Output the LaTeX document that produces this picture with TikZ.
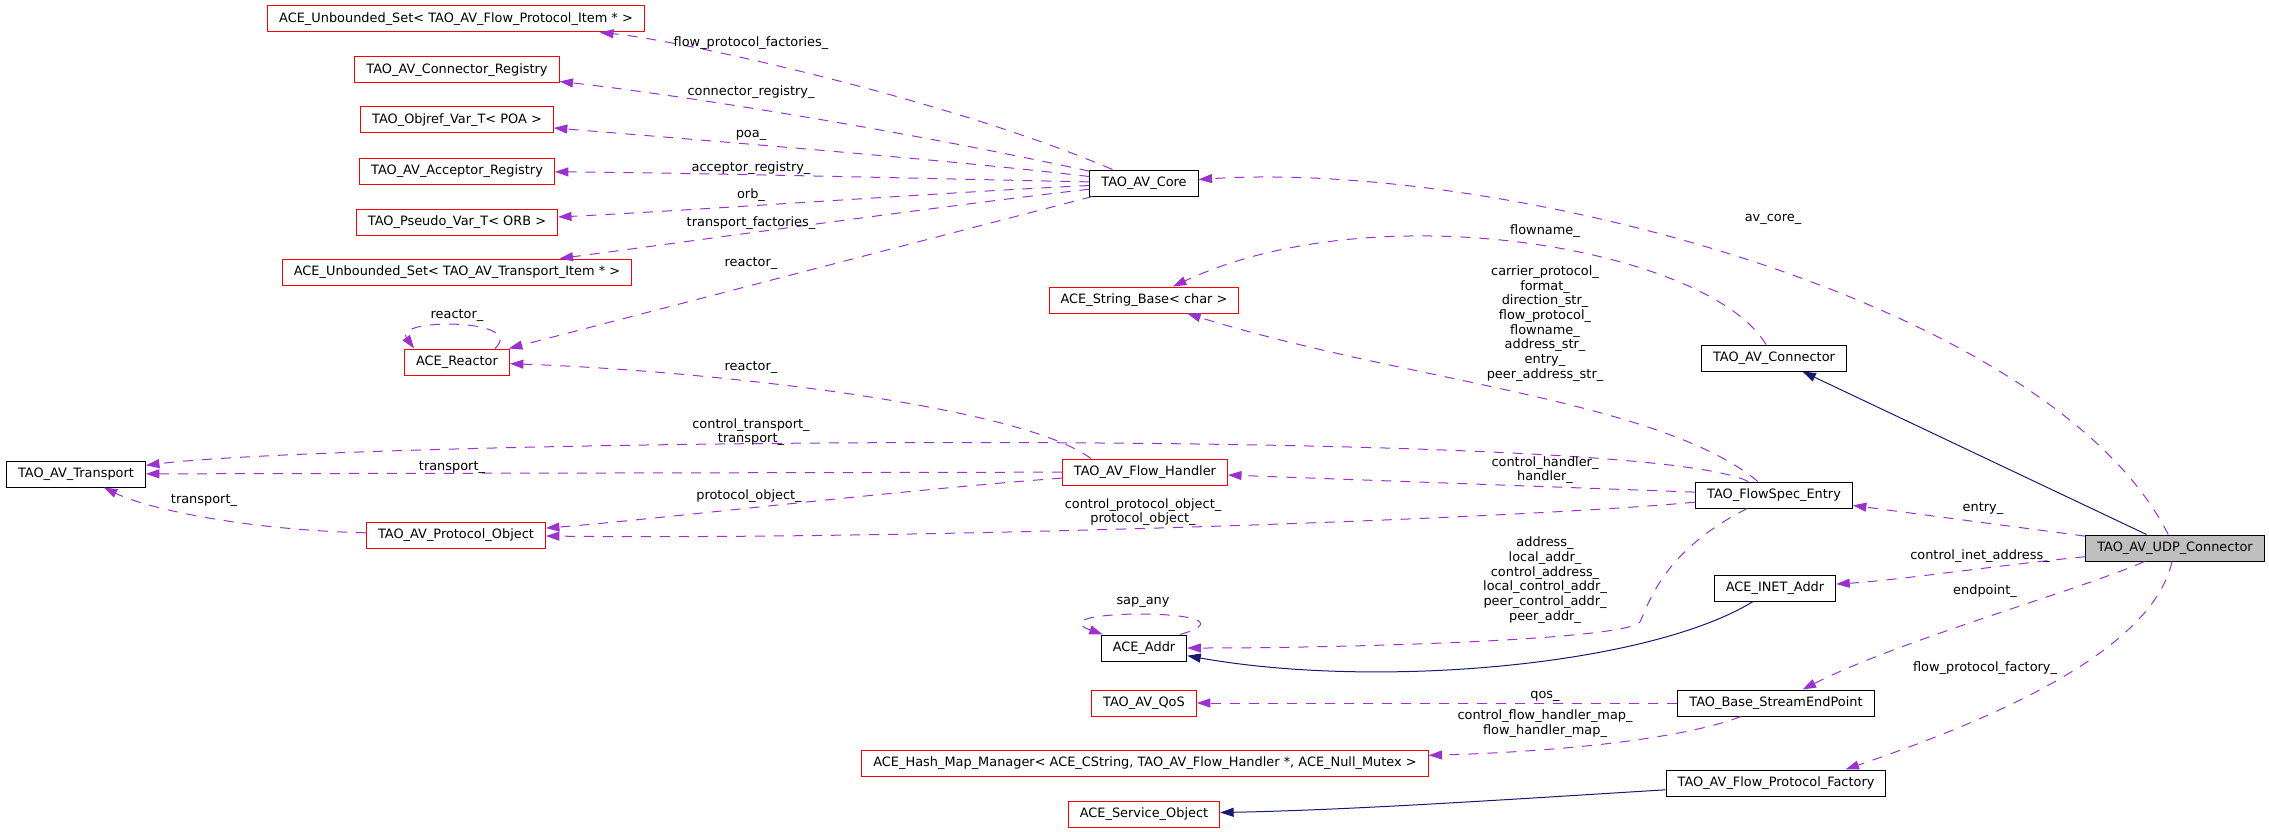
\documentclass[tikz,border=0pt]{standalone}
\usepackage{fontspec}
\setmainfont{DejaVu Sans}
\usetikzlibrary{arrows.meta}
\definecolor{edgepurple}{HTML}{9A32CD}
\definecolor{edgenavy}{HTML}{191970}
\definecolor{udpgray}{HTML}{BFBFBF}
\begin{document}
\begin{tikzpicture}[x=1pt, y=-1pt,
    every node/.style={font=\fontsize{12.9}{14.7}\selectfont},
    cls/.style={draw, line width=1pt, minimum height=26pt, inner xsep=11.5pt, inner ysep=0pt},
    ext/.style={cls, draw=red},
    uses/.style={draw=edgepurple, line width=1pt, dash pattern=on 10pt off 9pt, -{Triangle[length=13.5pt, width=9pt, fill=edgepurple]}},
    isa/.style={draw=edgenavy, line width=1pt, -{Triangle[length=13.5pt, width=9pt, fill=edgenavy]}},
    lbl/.style={align=center, inner sep=0pt}]
    \useasboundingbox (0,0) rectangle (2269,832);

    \node[ext] (unbflow) at (456,19) {ACE\_Unbounded\_Set< TAO\_AV\_Flow\_Protocol\_Item * >};
    \node[ext] (connreg) at (457,70) {TAO\_AV\_Connector\_Registry};
    \node[ext] (objref) at (457,120) {TAO\_Objref\_Var\_T< POA >};
    \node[ext] (accreg) at (457,171) {TAO\_AV\_Acceptor\_Registry};
    \node[ext] (pseudo) at (457,222) {TAO\_Pseudo\_Var\_T< ORB >};
    \node[ext] (unbtrans) at (457,272) {ACE\_Unbounded\_Set< TAO\_AV\_Transport\_Item * >};
    \node[ext] (reactor) at (457,362) {ACE\_Reactor};
    \node[cls] (transport) at (76,474) {TAO\_AV\_Transport};
    \node[ext] (protoobj) at (456,535) {TAO\_AV\_Protocol\_Object};
    \node[cls] (core) at (1144,183) {TAO\_AV\_Core};
    \node[ext] (strbase) at (1144,300) {ACE\_String\_Base< char >};
    \node[ext] (flowhandler) at (1145,472) {TAO\_AV\_Flow\_Handler};
    \node[cls] (addr) at (1144,648) {ACE\_Addr};
    \node[ext] (qos) at (1144,703) {TAO\_AV\_QoS};
    \node[ext] (hashmap) at (1145,763) {ACE\_Hash\_Map\_Manager< ACE\_CString, TAO\_AV\_Flow\_Handler *, ACE\_Null\_Mutex >};
    \node[ext] (svcobj) at (1144,814) {ACE\_Service\_Object};
    \node[cls] (connector) at (1774,358) {TAO\_AV\_Connector};
    \node[cls] (flowspec) at (1774,495) {TAO\_FlowSpec\_Entry};
    \node[cls] (inet) at (1775,588) {ACE\_INET\_Addr};
    \node[cls] (endpoint) at (1776,703) {TAO\_Base\_StreamEndPoint};
    \node[cls] (fpfactory) at (1776,783) {TAO\_AV\_Flow\_Protocol\_Factory};
    \node[cls, fill=udpgray] (udp) at (2175,548) {TAO\_AV\_UDP\_Connector};

    \draw[uses] (core) .. controls (950,100) and (680,40) .. (unbflow);
    \draw[uses] (core) .. controls (900,130) and (680,95) .. (connreg);
    \draw[uses] (core) .. controls (950,160) and (700,140) .. (objref);
    \draw[uses] (core) .. controls (900,178) and (700,173) .. (accreg);
    \draw[uses] (core) .. controls (950,192) and (700,210) .. (pseudo);
    \draw[uses] (core) .. controls (950,205) and (700,240) .. (unbtrans);
    \draw[uses] (core) -- (reactor);
    \draw[uses] ([xshift=-15pt]reactor.north east) .. controls (528,318) and (392,318) .. ([xshift=10pt]reactor.north west);
    \draw[uses] (flowhandler.166) .. controls (1020,405) and (700,370) .. (reactor);
    \draw[uses] (flowspec) .. controls (1660,400) and (1400,380) .. (strbase);
    \draw[uses] (connector) .. controls (1710,250) and (1380,190) .. (strbase);
    \draw[uses] (udp) .. controls (2050,300) and (1500,160) .. (core);
    \draw[isa] (udp) -- (connector);
    \draw[uses] (udp) -- (flowspec);
    \draw[uses] (flowspec) .. controls (1640,425) and (350,440) .. (transport);
    \draw[uses] (flowhandler) -- (transport);
    \draw[uses] (protoobj) .. controls (250,530) and (150,510) .. (transport);
    \draw[uses] (flowhandler) .. controls (900,490) and (650,520) .. (protoobj);
    \draw[uses] (flowspec) .. controls (1500,520) and (900,540) .. (protoobj);
    \draw[uses] (flowspec) -- (flowhandler);
    \draw[uses] (flowspec) .. controls (1665,550) and (1650,600) .. (1640,622) .. controls (1625,640) and (1350,648) .. (addr);
    \draw[uses] ([xshift=-7pt]addr.north east) .. controls (1270,608) and (1030,608) .. ([xshift=2pt]addr.north west);
    \draw[isa] (inet) .. controls (1650,665) and (1380,690) .. (addr);
    \draw[uses] (udp) .. controls (2000,565) and (1900,580) .. (inet);
    \draw[uses] (udp) .. controls (2080,590) and (1900,640) .. (endpoint);
    \draw[uses] (endpoint) -- (qos);
    \draw[uses] (endpoint) .. controls (1680,740) and (1550,752) .. (hashmap);
    \draw[uses] (udp) .. controls (2150,660) and (1960,730) .. (fpfactory.11);
    \draw[isa] (fpfactory) .. controls (1500,800) and (1350,810) .. (svcobj);

    \node[lbl] (lflowfac) at (751,43) {flow\_protocol\_factories\_};
    \node[lbl] (lconnreg) at (751,92) {connector\_registry\_};
    \node[lbl] (lpoa) at (751,135) {poa\_};
    \node[lbl] (laccreg) at (751,168) {acceptor\_registry\_};
    \node[lbl] (lorb) at (751,195) {orb\_};
    \node[lbl] (ltransfac) at (751,223) {transport\_factories\_};
    \node[lbl] (lreactor) at (751,263) {reactor\_};
    \node[lbl] (lreactorself) at (457,315) {reactor\_};
    \node[lbl] (lreactorfh) at (751,367) {reactor\_};
    \node[lbl] (lctrltrans) at (751,432) {control\_transport\_\\transport\_};
    \node[lbl] (ltransfh) at (452,467) {transport\_};
    \node[lbl] (lprotofh) at (749,496) {protocol\_object\_};
    \node[lbl] (ltransproto) at (204,500) {transport\_};
    \node[lbl] (lctrlproto) at (1143,512) {control\_protocol\_object\_\\protocol\_object\_};
    \node[lbl] (lflowname) at (1545,231) {flowname\_};
    \node[lbl] (lstrings) at (1545,323.5) {carrier\_protocol\_\\format\_\\direction\_str\_\\flow\_protocol\_\\flowname\_\\address\_str\_\\entry\_\\peer\_address\_str\_};
    \node[lbl] (lhandler) at (1545,470) {control\_handler\_\\handler\_};
    \node[lbl] (laddress) at (1545,580) {address\_\\local\_addr\_\\control\_address\_\\local\_control\_addr\_\\peer\_control\_addr\_\\peer\_addr\_};
    \node[lbl] (lsapany) at (1143,602) {sap\_any};
    \node[lbl] (lqos) at (1545,696) {qos\_};
    \node[lbl] (lhandlermap) at (1545,723.5) {control\_flow\_handler\_map\_\\flow\_handler\_map\_};
    \node[lbl] (lavcore) at (1773,219) {av\_core\_};
    \node[lbl] (lentry) at (1983,508) {entry\_};
    \node[lbl] (linet) at (1980,556) {control\_inet\_address\_};
    \node[lbl] (lendpoint) at (1985,591) {endpoint\_};
    \node[lbl] (lfpfactory) at (1985,668) {flow\_protocol\_factory\_};
\end{tikzpicture}
\end{document}
